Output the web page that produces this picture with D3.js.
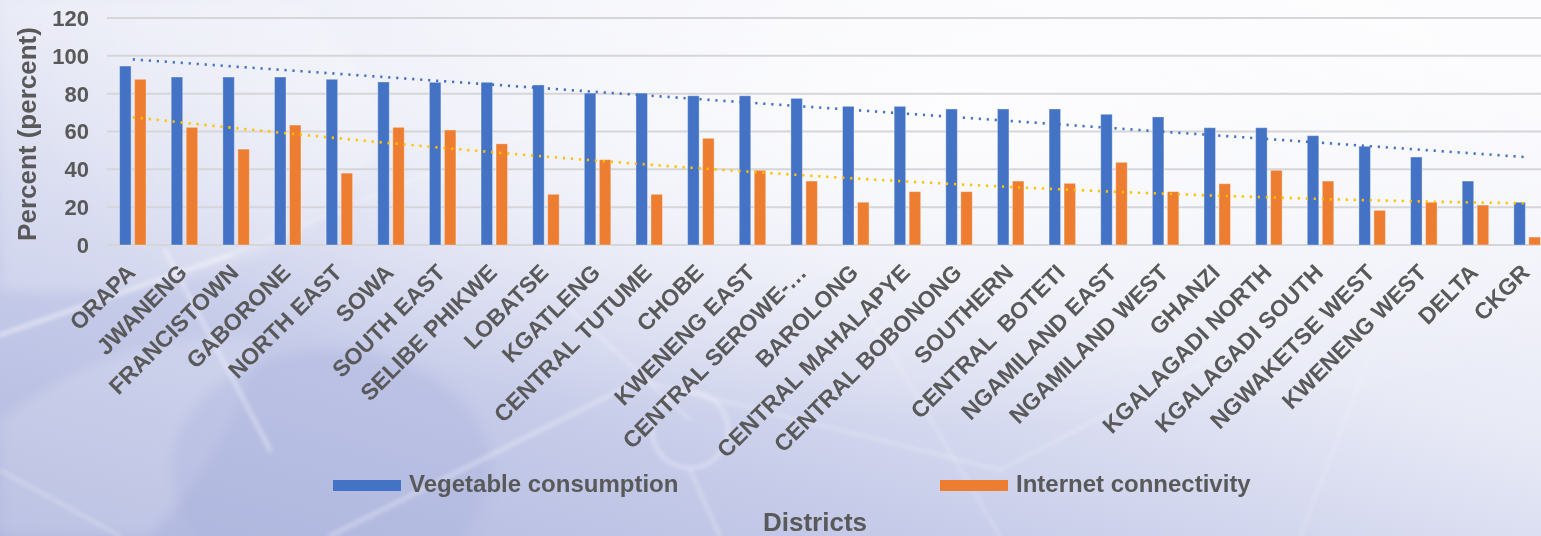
<!DOCTYPE html>
<html>
<head>
<meta charset="utf-8">
<script src="https://cdn.jsdelivr.net/npm/d3@7"></script>
<style>
  html, body { margin: 0; padding: 0; background: #ffffff; }
  svg { display: block; }
  text { font-family: "Liberation Sans", Arial, sans-serif; font-weight: bold; fill: #595959; }
</style>
</head>
<body>
<div id="chart"></div>
<script>
// District names as shown on the category axis
const districts = [
  "ORAPA", "JWANENG", "FRANCISTOWN", "GABORONE", "NORTH EAST", "SOWA",
  "SOUTH EAST", "SELIBE PHIKWE", "LOBATSE", "KGATLENG", "CENTRAL TUTUME",
  "CHOBE", "KWENENG EAST", "CENTRAL SEROWE-…", "BAROLONG",
  "CENTRAL MAHALAPYE", "CENTRAL BOBONONG", "SOUTHERN", "CENTRAL  BOTETI",
  "NGAMILAND EAST", "NGAMILAND WEST", "GHANZI", "KGALAGADI NORTH",
  "KGALAGADI SOUTH", "NGWAKETSE WEST", "KWENENG WEST", "DELTA", "CKGR"
];

// Percent of households per district
const vegetable = [
  94.6, 88.8, 88.8, 88.8, 87.6, 86.2, 86.0, 86.0, 84.6, 80.3, 80.3, 78.9,
  78.9, 77.5, 73.3, 73.3, 71.9, 71.9, 71.9, 69.1, 67.7, 62.0, 62.0, 57.8,
  52.2, 46.5, 33.8, 22.6
];
const internet = [
  87.6, 62.2, 50.7, 63.4, 38.0, 62.2, 60.8, 53.5, 26.8, 45.1, 26.8, 56.4,
  39.5, 33.8, 22.6, 28.2, 28.2, 33.8, 32.6, 43.7, 28.2, 32.4, 39.5, 33.8,
  18.3, 22.6, 21.1, 4.2
];

const seriesNames = ["Vegetable consumption", "Internet connectivity"];
const seriesColors = ["#4472C4", "#ED7D31"];
const trendColors = ["#4472C4", "#FFC000"];
const yTicks = [0, 20, 40, 60, 80, 100, 120];

const W = 1541, H = 536;
const svg = d3.select("#chart").append("svg")
  .attr("width", W).attr("height", H);

const defs = svg.append("defs");

// ---------- backdrop ----------
const bg = defs.append("linearGradient").attr("id", "bgGrad")
  .attr("x1", "0").attr("y1", "1").attr("x2", "0.85").attr("y2", "0");
bg.append("stop").attr("offset", "0").attr("stop-color", "#afb7de");
bg.append("stop").attr("offset", "0.3").attr("stop-color", "#c6cbe9");
bg.append("stop").attr("offset", "0.6").attr("stop-color", "#e8eaf6");
bg.append("stop").attr("offset", "1").attr("stop-color", "#fbfbfe");

const glow = defs.append("radialGradient").attr("id", "glow")
  .attr("cx", "0.62").attr("cy", "0.2").attr("r", "0.6");
glow.append("stop").attr("offset", "0").attr("stop-color", "#ffffff").attr("stop-opacity", 0.85);
glow.append("stop").attr("offset", "0.6").attr("stop-color", "#ffffff").attr("stop-opacity", 0.35);
glow.append("stop").attr("offset", "1").attr("stop-color", "#ffffff").attr("stop-opacity", 0);

defs.append("filter").attr("id", "soft")
  .append("feGaussianBlur").attr("stdDeviation", 2);
defs.append("filter").attr("id", "softer")
  .append("feGaussianBlur").attr("stdDeviation", 6);

const back = svg.append("g");
back.append("rect").attr("width", W).attr("height", H).attr("fill", "url(#bgGrad)");
back.append("rect").attr("width", W).attr("height", H).attr("fill", "url(#glow)");

// large pale swirls
const swirls = back.append("g").attr("filter", "url(#softer)");
swirls.append("path")
  .attr("d", "M300,0 C360,60 420,120 340,200 C260,280 120,300 0,290 L0,0 Z")
  .attr("fill", "#ffffff").attr("opacity", 0.22);
swirls.append("path")
  .attr("d", "M0,420 C80,360 160,330 260,340 C240,420 200,480 150,536 L0,536 Z")
  .attr("fill", "#ffffff").attr("opacity", 0.16);
swirls.append("ellipse").attr("cx", 330).attr("cy", 470).attr("rx", 160).attr("ry", 120)
  .attr("fill", "#aab2dc").attr("opacity", 0.35);

// faint network lines
const net = back.append("g").attr("filter", "url(#soft)")
  .attr("stroke", "#ffffff").attr("fill", "none").attr("stroke-linecap", "round");
[
  [0, 335, 230, 255, 0.5, 4],
  [165, 250, 270, 450, 0.4, 4],
  [230, 255, 560, 120, 0.3, 3],
  [330, 536, 640, 380, 0.35, 4],
  [640, 380, 1000, 470, 0.3, 3],
  [560, 300, 690, 420, 0.3, 3],
  [690, 470, 720, 536, 0.35, 3],
  [860, 300, 1000, 536, 0.25, 3],
  [1000, 470, 1400, 260, 0.25, 3],
  [1300, 536, 1380, 330, 0.2, 3],
  [0, 470, 120, 536, 0.3, 3]
].forEach(([x1, y1, x2, y2, o, w]) => {
  net.append("line").attr("x1", x1).attr("y1", y1).attr("x2", x2).attr("y2", y2)
    .attr("stroke-opacity", o).attr("stroke-width", w);
});
net.append("circle").attr("cx", 690).attr("cy", 430).attr("r", 38)
  .attr("stroke-opacity", 0.35).attr("stroke-width", 4);

// ---------- scales ----------
const x0 = d3.scaleBand().domain(districts)
  .range([107, 107 + 51.64 * districts.length]).paddingInner(0).paddingOuter(0);
const groupW = 26.5;
const x1 = d3.scaleBand().domain(seriesNames).range([0, groupW]).paddingInner(0.233);
const y = d3.scaleLinear().domain([0, 120]).range([245, 18]);

const cx = d => x0(d) + x0.bandwidth() / 2;

// ---------- gridlines & value axis ----------
const grid = svg.append("g");
grid.selectAll("line").data(yTicks).join("line")
  .attr("x1", 107).attr("x2", x0.range()[1])
  .attr("y1", d => y(d)).attr("y2", d => y(d))
  .attr("stroke", "#d6d6d9").attr("stroke-width", 2);

svg.append("g").selectAll("text").data(yTicks).join("text")
  .attr("x", 89).attr("y", d => y(d)).attr("dy", "0.36em")
  .attr("text-anchor", "end").style("font-size", "22px")
  .text(d => d);

// ---------- bars ----------
const rows = districts.map((d, i) => ({ d, vals: [vegetable[i], internet[i]] }));
const groups = svg.append("g").selectAll("g").data(rows).join("g")
  .attr("transform", r => `translate(${x0(r.d) + (x0.bandwidth() - groupW) / 2},0)`);
groups.selectAll("rect")
  .data(r => r.vals.map((v, k) => ({ k, v })))
  .join("rect")
  .attr("x", e => x1(seriesNames[e.k]))
  .attr("width", x1.bandwidth())
  .attr("y", e => y(e.v))
  .attr("height", e => y(0) - y(e.v))
  .attr("fill", e => seriesColors[e.k])
  .attr("stroke", "rgba(255,255,255,0.35)").attr("stroke-width", 1);

// ---------- trendlines ----------
// least-squares polynomial fit of given degree over index t
function polyFit(vals, degree) {
  const n = degree + 1;
  const A = Array.from({ length: n }, () => new Array(n + 1).fill(0));
  vals.forEach((v, t) => {
    for (let r = 0; r < n; r++) {
      for (let c = 0; c < n; c++) A[r][c] += Math.pow(t, r + c);
      A[r][n] += v * Math.pow(t, r);
    }
  });
  for (let i = 0; i < n; i++) {
    let p = i;
    for (let r = i + 1; r < n; r++) if (Math.abs(A[r][i]) > Math.abs(A[p][i])) p = r;
    [A[i], A[p]] = [A[p], A[i]];
    for (let r = 0; r < n; r++) {
      if (r === i) continue;
      const f = A[r][i] / A[i][i];
      for (let c = i; c <= n; c++) A[r][c] -= f * A[i][c];
    }
  }
  const coef = A.map((row, i) => row[n] / row[i]);
  return t => coef.reduce((s, c, k) => s + c * Math.pow(t, k), 0);
}
const fits = [polyFit(vegetable, 1), polyFit(internet, 2)];
const step = x0.step();
const firstC = cx(districts[0]);
const line = d3.line().x(p => firstC + p[0] * step).y(p => y(p[1]));
const samples = d3.range(0, districts.length - 1 + 0.001, 0.25);
fits.forEach((f, k) => {
  svg.append("path")
    .attr("d", line(samples.map(t => [t, f(t)])))
    .attr("fill", "none")
    .attr("stroke", trendColors[k])
    .attr("stroke-width", 2.6)
    .attr("stroke-dasharray", "2.2,5.8");
});

// ---------- category labels ----------
svg.append("g").selectAll("text").data(districts).join("text")
  .attr("transform", d => `translate(${cx(d) + 4},274) rotate(-45)`)
  .attr("text-anchor", "end")
  .style("font-size", "23px")
  .style("white-space", "pre")
  .text(d => d);

// ---------- legend ----------
const legendPos = [333, 940];
const lg = svg.append("g");
seriesNames.forEach((s, k) => {
  lg.append("rect").attr("x", legendPos[k]).attr("y", 480)
    .attr("width", 68).attr("height", 11).attr("fill", seriesColors[k]);
  lg.append("text").attr("x", legendPos[k] + 76).attr("y", 492)
    .style("font-size", "24px").text(s);
});

// ---------- axis titles ----------
svg.append("text")
  .attr("transform", "translate(36,134) rotate(-90)")
  .attr("text-anchor", "middle").style("font-size", "26px")
  .text("Percent (percent)");
svg.append("text")
  .attr("x", 815).attr("y", 531)
  .attr("text-anchor", "middle").style("font-size", "26px")
  .text("Districts");
</script>
</body>
</html>
